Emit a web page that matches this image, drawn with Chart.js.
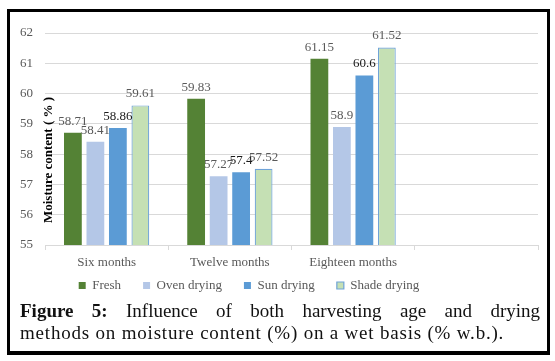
<!DOCTYPE html>
<html>
<head>
<meta charset="utf-8">
<script src="https://cdn.jsdelivr.net/npm/chart.js@4.4.1/dist/chart.umd.min.js"></script>
<style>
  html, body { margin: 0; padding: 0; background: #fff; }
  body { width: 555px; height: 361px; position: relative; overflow: hidden; }
  #wrap { position: absolute; left: 0; top: 0; width: 555px; height: 316px; }
  #frame { position: absolute; left: 7px; top: 9px; width: 537px; height: 339px; border: 3px solid #000; border-bottom-width: 4px; }
  .cap { position: absolute; left: 20px; width: 520px; font-family: "Liberation Serif", "Times New Roman", serif; font-size: 19px; line-height: 22px; color: #111; white-space: nowrap; }
  #l1 { top: 300px; text-align: justify; text-align-last: justify; white-space: normal; }
  #l2 { top: 322px; letter-spacing: 0.8px; }
</style>
</head>
<body>
<div id="wrap"><canvas id="c" width="555" height="316"></canvas></div>
<div id="frame"></div>
<div class="cap" id="l1"><b>Figure 5:</b> Influence of both harvesting age and drying</div>
<div class="cap" id="l2">methods on moisture content (%) on a wet basis (% w.b.).</div>
<script>
const categories = ["Six months", "Twelve months", "Eighteen months", ""];
const seriesNames = ["Fresh", "Oven drying", "Sun drying", "Shade drying"];
const fresh = [58.71, 59.83, 61.15, null];
const ovenDrying = [58.41, 57.27, 58.9, null];
const sunDrying = [58.86, 57.4, 60.6, null];
const shadeDrying = [59.61, 57.52, 61.52, null];
const yTicks = [55, 56, 57, 58, 59, 60, 61, 62];
const yTitle = "Moisture content ( % )";

const serif = "'Liberation Serif', 'Times New Roman', serif";
const gray = "#595959";

const labelPlugin = {
  id: "valueLabels",
  afterDatasetsDraw(chart) {
    const ctx = chart.ctx;
    ctx.save();
    ctx.font = "13px " + serif;
    ctx.textAlign = "center";
    ctx.textBaseline = "bottom";
    chart.data.datasets.forEach((ds, i) => {
      const meta = chart.getDatasetMeta(i);
      meta.data.forEach((bar, j) => {
        const v = ds.data[j];
        if (v == null) return;
        ctx.fillStyle = i === 2 ? "#1a1a1a" : gray;
        ctx.fillText(String(v), bar.x, bar.y - 5);
      });
    });
    const a = chart.chartArea;
    ctx.font = "bold 13px " + serif;
    ctx.fillStyle = "#000";
    ctx.translate(a.left + 4, a.top + 127);
    ctx.rotate(-Math.PI / 2);
    ctx.textAlign = "center";
    ctx.textBaseline = "middle";
    ctx.fillText(yTitle, 0, 0);
    ctx.restore();
  }
};

const shiftLegend = {
  id: "shiftLegend",
  afterLayout(chart) {
    const lg = chart.legend;
    if (lg) { lg.left -= 20; lg.right -= 20; lg.top -= 14; lg.bottom -= 14; }
  }
};

new Chart(document.getElementById("c"), {
  type: "bar",
  data: {
    labels: categories,
    datasets: [
      { label: seriesNames[0], data: fresh, backgroundColor: "#548235", borderColor: "#548235", borderWidth: 0 },
      { label: seriesNames[1], data: ovenDrying, backgroundColor: "#B4C7E7", borderColor: "#B4C7E7", borderWidth: 0 },
      { label: seriesNames[2], data: sunDrying, backgroundColor: "#5B9BD5", borderColor: "#5B9BD5", borderWidth: 0 },
      { label: seriesNames[3], data: shadeDrying, backgroundColor: "#C5E0B4", borderColor: "#6FA3D8", borderWidth: 1.2 }
    ]
  },
  options: {
    responsive: false,
    animation: false,
    devicePixelRatio: 1,
    layout: { padding: { left: 0, top: 33, right: 17, bottom: 0 } },
    datasets: { bar: { categoryPercentage: 0.73, barPercentage: 0.79 } },
    scales: {
      x: {
        grid: { display: true, drawOnChartArea: false, drawTicks: true, tickLength: 5, offset: true, color: "#D9D9D9" },
        border: { display: true, color: "#D9D9D9" },
        ticks: { color: gray, font: { family: serif, size: 13 }, padding: 5, maxRotation: 0 },
        afterFit(s) { s.height = 26; }
      },
      y: {
        min: 55, max: 62,
        afterBuildTicks(s) { s.ticks = yTicks.map(v => ({ value: v })); },
        grid: { color: "#D9D9D9", drawTicks: false },
        border: { display: false },
        ticks: { color: gray, font: { family: serif, size: 13 }, padding: 12 },
        afterFit(s) { s.width = 45; }
      }
    },
    plugins: {
      legend: {
        position: "bottom",
        labels: { boxWidth: 7, boxHeight: 7, padding: 22, color: gray, font: { family: serif, size: 13 } }
      },
      tooltip: { enabled: false }
    }
  },
  plugins: [labelPlugin, shiftLegend]
});
</script>
</body>
</html>
